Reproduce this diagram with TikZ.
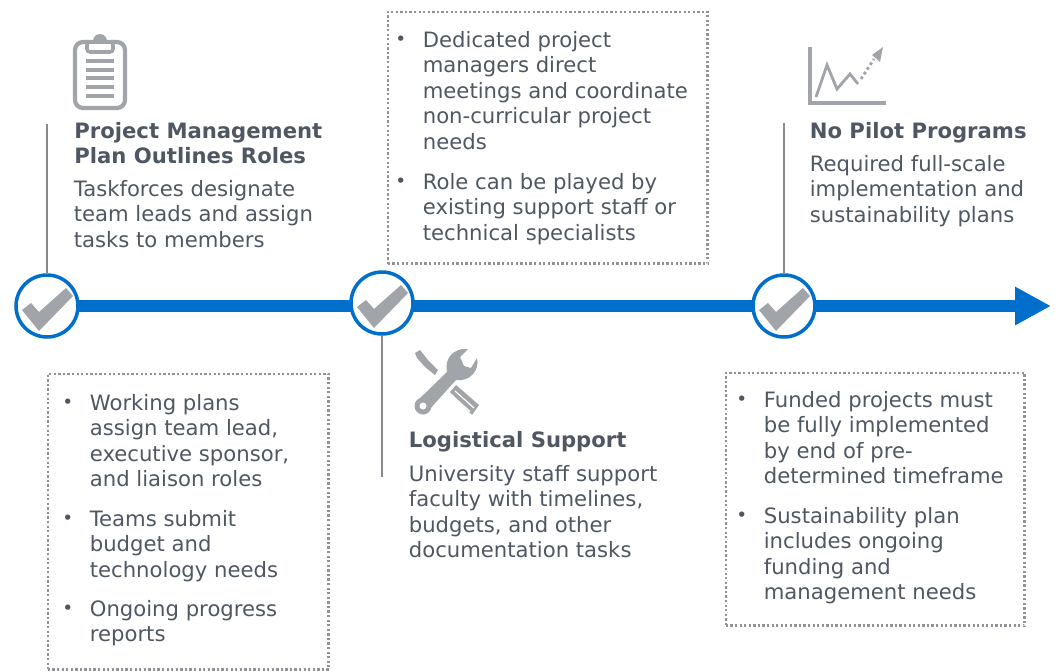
\documentclass[tikz,border=0pt]{standalone}
\usepackage{fontspec}
\setmainfont{DejaVu Sans}
\usetikzlibrary{arrows.meta}
\definecolor{txtgray}{HTML}{4F5763}
\definecolor{icongray}{HTML}{A1A4A8}
\definecolor{stemgray}{HTML}{868A90}
\definecolor{dotgray}{HTML}{8F9296}
\definecolor{lineblue}{HTML}{006FCB}
\tikzset{
  head/.style={anchor=north west, inner sep=0pt, align=left, text=txtgray, font=\fontsize{12.05}{14.4}\selectfont\bfseries},
  body/.style={anchor=north west, inner sep=0pt, align=left, text=txtgray, font=\fontsize{12.05}{14.5}\selectfont},
  dot/.style={anchor=north west, inner sep=0pt, text=txtgray, font=\fontsize{10.5}{14.5}\selectfont},
  dotbox/.style={draw=dotgray, line width=1.5pt, dash pattern=on 1.3pt off 1.3pt, anchor=north west, inner sep=0pt},
  checkcircle/.style={circle, draw=lineblue, fill=white, line width=2pt, minimum size=1.24cm, inner sep=0pt},
  stem/.style={draw=stemgray, line width=1.5pt},
  checkmark/.pic={\fill[icongray] (-25,4) -- (-16,-3) -- (-8,6) -- (19,-18) -- (26,-10) -- (-8,25) -- cycle;}
}
\begin{document}
\begin{tikzpicture}[x=0.02cm,y=-0.02cm]
    \useasboundingbox (0,0) rectangle (1055,670);

    \coordinate (top1) at (47,124);
    \coordinate (top3) at (784,123);
    \coordinate (bot2) at (382,477);
    \coordinate (end) at (1051,306);

    \draw[lineblue, line width=6.6pt, -{Triangle[length=0.72cm,width=0.72cm]}] (47,306) -- (end);

    \node[checkcircle] (check1) at (47,306) {};
    \node[checkcircle] (check2) at (382,303) {};
    \node[checkcircle] (check3) at (784,306) {};
    \pic at (check1) {checkmark};
    \pic at (check2) {checkmark};
    \pic at (check3) {checkmark};

    \draw[stem] (top1) -- (check1);
    \draw[stem] (check2) -- (bot2);
    \draw[stem] (top3) -- (check3);

    % clipboard
    \draw[icongray, line width=2.4pt, rounded corners=0.16cm] (75,42) rectangle (125,108);
    \fill[icongray] (100,41) circle (7);
    \draw[icongray, fill=white, line width=2pt, rounded corners=0.06cm] (87,42) rectangle (113,52);
    \fill[icongray] (100,41) circle (2.5);
    \foreach \y in {61,70,78,87,96}
      \fill[icongray] (86,\y-2) rectangle (114,\y+2);

    % tools
    \fill[icongray] (415,353) -- (420,350) -- (428,360) -- (438,370) -- (435,375) -- (425,367) -- (417,358) -- cycle;
    \fill[icongray] (450,392) -- (456,385) -- (479,405) -- (472,415) -- cycle;
    \draw[white, line width=0.7pt] (455,391) -- (474,408);
    \draw[white, line width=0.7pt] (451.5,395) -- (470,411.5);
    \fill[icongray] (417,401) -- (447,372) .. controls (445,360) and (450,352) .. (462,349) -- (468,349) -- (460,357) -- (464,366) -- (471,368) -- (477,358) .. controls (480,370) and (470,382) .. (456,380) -- (428,411) -- cycle;
    \fill[icongray] (423,406) circle (8.5);
    \fill[white] (423,406) circle (3.5);

    % chart
    \draw[icongray, line width=1.8pt] (810,47) -- (810,103) -- (886,103);
    \draw[icongray, line width=1.6pt] (816,97) -- (827,65) -- (837,89) -- (850,74) -- (858,84);
    \draw[icongray, line width=1.6pt, dash pattern=on 1.6pt off 1.6pt] (861,79) -- (874,59);
    \fill[icongray] (883,47) -- (880,62) -- (872,55) -- cycle;

    % headings
    \node[head] (head1) at (74,122) {Project Management\\Plan Outlines Roles};
    \node[body] (text1) at (73.5,180) {Taskforces designate\\team leads and assign\\tasks to members};
    \node[head] (head2) at (408.5,431) {Logistical Support};
    \node[body] (text2) at (408.5,465) {University staff support\\faculty with timelines,\\budgets, and other\\documentation tasks};
    \node[head] (head3) at (809.5,122) {No Pilot Programs};
    \node[body] (text3) at (809.5,155) {Required full-scale\\implementation and\\sustainability plans};

    % top box
    \node[dotbox, minimum width=6.4cm, minimum height=5.04cm] (box1) at (386.5,10.5) {};
    \node[dot] (dot1a) at (395,36) {•};
    \node[body] (item1a) at (422.5,31) {Dedicated project\\managers direct\\meetings and coordinate\\non-curricular project\\needs};
    \node[dot] (dot1b) at (395,178) {•};
    \node[body] (item1b) at (422.5,173) {Role can be played by\\existing support staff or\\technical specialists};

    % left box
    \node[dotbox, minimum width=5.62cm, minimum height=5.92cm] (box2) at (46.5,372.5) {};
    \node[dot] (dot2a) at (62,399) {•};
    \node[body] (item2a) at (89.5,394) {Working plans\\assign team lead,\\executive sponsor,\\and liaison roles};
    \node[dot] (dot2b) at (62,515) {•};
    \node[body] (item2b) at (89.5,510) {Teams submit\\budget and\\technology needs};
    \node[dot] (dot2c) at (62,605) {•};
    \node[body] (item2c) at (89.5,600) {Ongoing progress\\reports};

    % right box
    \node[dotbox, minimum width=5.98cm, minimum height=5.06cm] (box3) at (724.5,371.5) {};
    \node[dot] (dot3a) at (736,396) {•};
    \node[body] (item3a) at (763.5,391) {Funded projects must\\be fully implemented\\by end of pre-\\determined timeframe};
    \node[dot] (dot3b) at (736,512) {•};
    \node[body] (item3b) at (763.5,507) {Sustainability plan\\includes ongoing\\funding and\\management needs};
\end{tikzpicture}
\end{document}
